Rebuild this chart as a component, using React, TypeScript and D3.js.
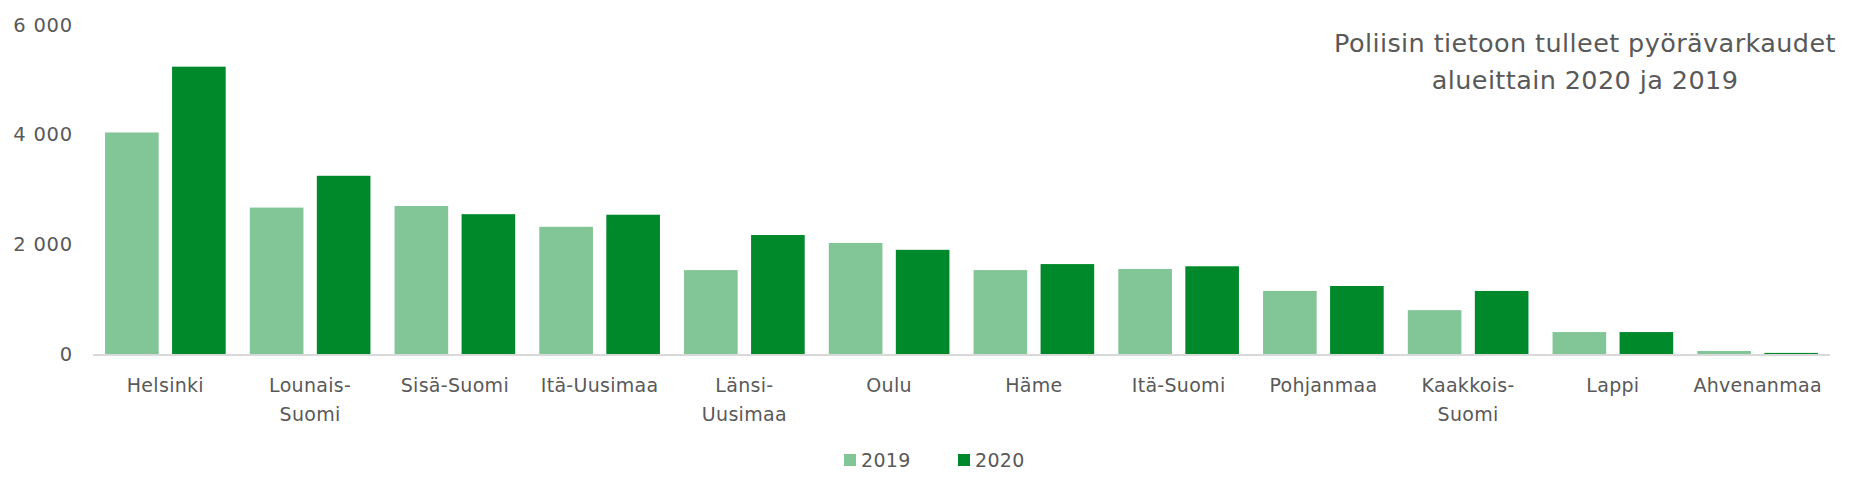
import React from "react";
import * as d3 from "d3";

const categories: string[][] = [
  ["Helsinki"],
  ["Lounais-", "Suomi"],
  ["Sisä-Suomi"],
  ["Itä-Uusimaa"],
  ["Länsi-", "Uusimaa"],
  ["Oulu"],
  ["Häme"],
  ["Itä-Suomi"],
  ["Pohjanmaa"],
  ["Kaakkois-", "Suomi"],
  ["Lappi"],
  ["Ahvenanmaa"],
];
const values2019 = [4040, 2670, 2700, 2320, 1530, 2025, 1530, 1550, 1150, 800, 400, 55];
const values2020 = [5240, 3250, 2550, 2540, 2170, 1900, 1640, 1600, 1240, 1150, 400, 20];
const seriesNames = ["2019", "2020"];
const yTicks = [0, 2000, 4000, 6000];
const titleLines = ["Poliisin tietoon tulleet pyörävarkaudet", "alueittain 2020 ja 2019"];

const W = 1853;
const H = 490;
const colors = ["#82C596", "#00892A"];
const textColor = "#595959";
const font = "'DejaVu Sans', 'Open Sans', sans-serif";

export default function App() {
  const left = 93;
  const right = 1830;
  const top = 25;
  const bottom = 354;
  const keys = categories.map((c) => c.join(""));
  const x = d3.scaleBand<string>().domain(keys).range([left, right]).paddingInner(0).paddingOuter(0);
  const inner = d3
    .scaleBand<string>()
    .domain(seriesNames)
    .range([0, x.bandwidth()])
    .paddingInner(0.2)
    .paddingOuter(0.18);
  const y = d3.scaleLinear().domain([0, 6000]).range([bottom, top]);
  const series = [values2019, values2020];

  return (
    <svg
      width={W}
      height={H}
      style={{ position: "absolute", left: 0, top: 0, background: "#fff" }}
      fontFamily={font}
    >
      {yTicks.map((t) => (
        <text
          key={t}
          x={73}
          y={y(t)}
          textAnchor="end"
          dominantBaseline="central"
          fontSize={19.5}
          letterSpacing={0.8}
          fill={textColor}
        >
          {d3.format(",")(t).replace(/,/g, " ")}
        </text>
      ))}
      {series.map((vals, si) =>
        vals.map((v, i) => (
          <rect
            key={`${si}-${i}`}
            x={(x(keys[i]) as number) + (inner(seriesNames[si]) as number)}
            y={y(v)}
            width={inner.bandwidth()}
            height={bottom - y(v)}
            fill={colors[si]}
          />
        ))
      )}
      <line x1={left} x2={right} y1={bottom + 1} y2={bottom + 1} stroke="#D9D9D9" strokeWidth={2} />
      {categories.map((lines, i) => (
        <text
          key={i}
          x={(x(keys[i]) as number) + x.bandwidth() / 2}
          y={385}
          textAnchor="middle"
          dominantBaseline="central"
          fontSize={19}
          letterSpacing={0.3}
          fill={textColor}
        >
          {lines.map((l, j) => (
            <tspan key={j} x={(x(keys[i]) as number) + x.bandwidth() / 2} dy={j === 0 ? 0 : 29}>
              {l}
            </tspan>
          ))}
        </text>
      ))}
      {titleLines.map((l, i) => (
        <text
          key={i}
          x={1585}
          y={43 + i * 37}
          textAnchor="middle"
          dominantBaseline="central"
          fontSize={25.5}
          letterSpacing={0.4}
          fill={textColor}
        >
          {l}
        </text>
      ))}
      {seriesNames.map((s, i) => (
        <g key={s} transform={`translate(${844 + i * 114},0)`}>
          <rect x={0} y={454} width={12} height={12} fill={colors[i]} />
          <text x={17} y={460} dominantBaseline="central" fontSize={19} letterSpacing={0.3} fill={textColor}>
            {s}
          </text>
        </g>
      ))}
    </svg>
  );
}
